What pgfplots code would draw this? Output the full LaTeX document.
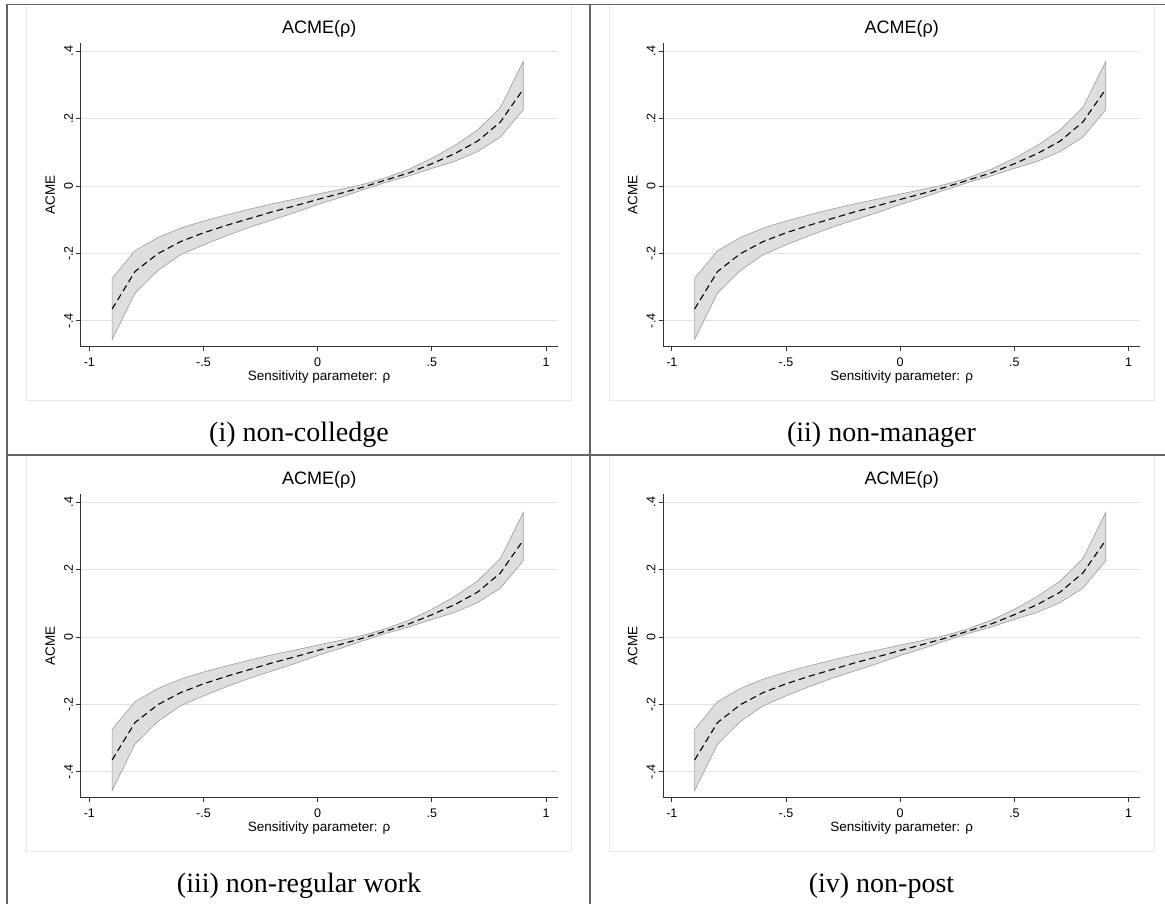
\documentclass[border=0pt]{standalone}
\usepackage{fontspec}
\setmainfont{Liberation Serif}
\newfontfamily\sans{Liberation Sans}
\usepackage{pgfplots}
\pgfplotsset{compat=1.18}
\usepackage{pgfplotstable}

% central estimate
\pgfplotstableread{
x mid
-0.9 -0.365
-0.8 -0.254
-0.7 -0.201
-0.6 -0.165
-0.5 -0.139
-0.4 -0.117
-0.3 -0.097
-0.2 -0.077
-0.1 -0.059
0.0 -0.040
0.1 -0.022
0.2 -0.003
0.3 0.018
0.4 0.039
0.5 0.066
0.6 0.096
0.7 0.133
0.8 0.190
0.9 0.287
}\acme

% confidence band: upper bound forward, lower bound backward
\pgfplotstableread{
x y
-0.9 -0.274
-0.8 -0.192
-0.7 -0.153
-0.6 -0.125
-0.5 -0.104
-0.4 -0.086
-0.3 -0.069
-0.2 -0.053
-0.1 -0.039
0.0 -0.024
0.1 -0.010
0.2 0.005
0.3 0.025
0.4 0.050
0.5 0.082
0.6 0.120
0.7 0.166
0.8 0.233
0.9 0.369
0.9 0.226
0.8 0.145
0.7 0.102
0.6 0.073
0.5 0.052
0.4 0.030
0.3 0.011
0.2 -0.011
0.1 -0.034
0.0 -0.055
-0.1 -0.079
-0.2 -0.101
-0.3 -0.123
-0.4 -0.148
-0.5 -0.175
-0.6 -0.204
-0.7 -0.251
-0.8 -0.318
-0.9 -0.456
}\band

\definecolor{tline}{RGB}{100,100,100}
\definecolor{framec}{RGB}{232,232,232}
\definecolor{gridc}{RGB}{226,226,226}
\definecolor{bandfill}{RGB}{222,222,222}
\definecolor{bandline}{RGB}{155,155,155}

\pgfplotsset{acmestyle/.style={
  scale only axis, width=477pt, height=303.4pt,
  xmin=-1.0377, xmax=1.051, ymin=-0.477, ymax=0.4235,
  axis x line*=bottom, axis y line*=left,
  axis line style={black!80, line width=0.9pt},
  xtick={-1,-0.5,0,0.5,1}, xticklabels={-1,-.5,0,.5,1},
  ytick={-0.4,-0.2,0,0.2,0.4}, yticklabels={-.4,-.2,0,.2,.4},
  tick align=outside, major tick length=4.7pt,
  tick style={black!80, line width=0.8pt},
  ymajorgrids, grid style={gridc, line width=0.9pt},
  /pgf/number format/assume math mode=true,
  ticklabel style={font=\sans\fontsize{12.5}{13}\selectfont},
  yticklabel style={rotate=90, anchor=south},
  yticklabel shift=-0.5pt,
  xticklabel shift=3pt,
  title={ACME(ρ)},
  title style={font=\sans\fontsize{18}{19}\selectfont, at={(axis description cs:0.5,1.014)}, anchor=base},
  xlabel={Sensitivity parameter: ρ},
  xlabel style={font=\sans\fontsize{13.5}{14}\selectfont, at={(axis description cs:0.5,-0.112)}, anchor=base},
  ylabel={ACME},
  ylabel style={font=\sans\fontsize{13.5}{14}\selectfont, at={(axis description cs:-0.0543,0.5)}, anchor=base},
}}

\newcommand{\acmepanel}[2]{%
  \begin{axis}[acmestyle, at={(#1,#2)}, anchor=south west]
    \addplot[fill=bandfill, draw=bandline, line width=0.6pt] table[x=x,y=y]{\band} -- cycle;
    \addplot[black, line width=1.1pt, dash pattern=on 6.5pt off 4pt] table[x=x,y=mid]{\acme};
  \end{axis}}

\begin{document}
\begin{tikzpicture}
\path[use as bounding box] (0pt,0pt) rectangle (1165pt,904pt);
% panel frames
\draw[framec, line width=1pt] (26.5pt,899pt) rectangle (571.7pt,503pt);
\draw[framec, line width=1pt] (609pt,899pt) rectangle (1154.5pt,503pt);
\draw[framec, line width=1pt] (26.5pt,448pt) rectangle (571.7pt,52pt);
\draw[framec, line width=1pt] (609pt,448pt) rectangle (1154.5pt,52pt);
% table lines
\draw[tline, line width=1.3pt] (7pt,899.5pt) -- (1165pt,899.5pt);
\draw[tline, line width=1.3pt] (7pt,449pt) -- (1165pt,449pt);
\draw[tline, line width=1.3pt] (7pt,899.5pt) -- (7pt,0pt);
\draw[tline, line width=1.3pt] (590pt,899.5pt) -- (590pt,0pt);
% axes
\acmepanel{80.7pt}{557.3pt}
\acmepanel{663.2pt}{557.3pt}
\acmepanel{80.7pt}{106.3pt}
\acmepanel{663.2pt}{106.3pt}
% captions
\node[anchor=base, font=\fontsize{28}{30}\selectfont] at (299pt,462pt) {(i) non-colledge};
\node[anchor=base, font=\fontsize{28}{30}\selectfont] at (881.5pt,462pt) {(ii) non-manager};
\node[anchor=base, font=\fontsize{28}{30}\selectfont] at (299pt,11pt) {(iii) non-regular work};
\node[anchor=base, font=\fontsize{28}{30}\selectfont] at (881.5pt,11pt) {(iv) non-post};
\end{tikzpicture}
\end{document}
